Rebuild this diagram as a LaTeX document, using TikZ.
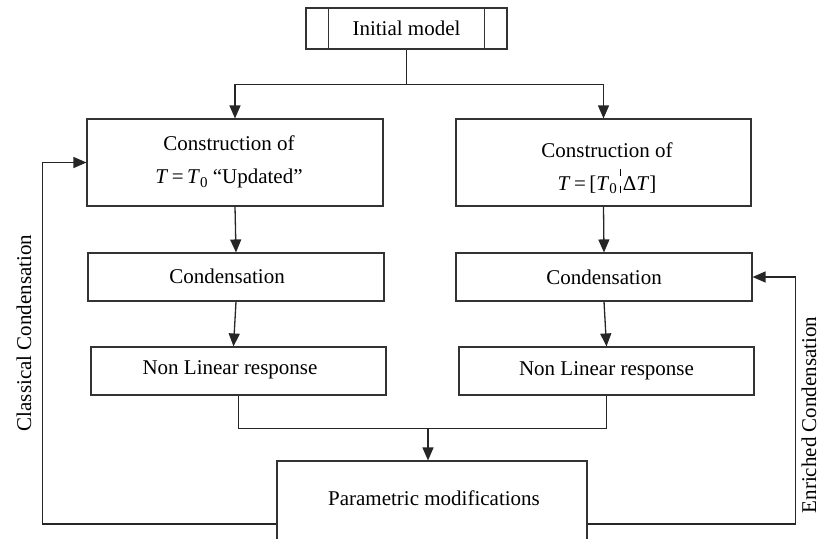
\documentclass[tikz,border=0pt]{standalone}
\usepackage{fontspec}
\setmainfont{Liberation Serif}
\usetikzlibrary{arrows.meta}
\tikzset{
  box/.style={draw=black!80, line width=1.1pt, rectangle, inner sep=0pt, align=center},
  conn/.style={draw=black!85, line width=1.3pt},
  arr/.style={conn, -{Triangle[length=13pt,width=11pt]}},
  lbl/.style={inner sep=0pt}
}
\newcommand{\dbar}{\makebox[6pt]{\rlap{\raisebox{-3pt}{\rule{0.7pt}{7.5pt}}}\rlap{\raisebox{14pt}{\rule{0.7pt}{7.5pt}}}}}
\begin{document}
\begin{tikzpicture}[x=1pt,y=-1pt]
\fontsize{21}{33}\selectfont
\useasboundingbox (0,0) rectangle (829,538);
\clip (0,0) rectangle (829,538);
% initial model
\node[box, minimum width=201pt, minimum height=41pt] (init) at (406.5,28.5) {Initial model};
\draw[box] ([xshift=23pt]init.north west) -- ([xshift=23pt]init.south west);
\draw[box] ([xshift=-23pt]init.north east) -- ([xshift=-23pt]init.south east);
% construction boxes
\node[box, minimum width=296pt, minimum height=87pt] (lc) at (235,162.5) {};
\node[lbl, align=center] (lct) at (229,162) {Construction of\\\textit{T}\,=\,\textit{T}\raisebox{-0.35ex}{\fontsize{15}{15}\selectfont 0}\ “Updated”};
\node[box, minimum width=295pt, minimum height=87pt] (rc) at (603.5,162.5) {};
\node[lbl, align=center] (rct) at (607,168) {Construction of\\\textit{T}\,=\,[\textit{T}\raisebox{-0.35ex}{\fontsize{15}{15}\selectfont 0}\dbar Δ\textit{T}]};
% condensation
\node[box, minimum width=296pt, minimum height=48pt] (lcd) at (236,277) {};
\node[lbl] (lcdt) at (227,276) {Condensation};
\node[box, minimum width=296pt, minimum height=48pt] (rcd) at (604,277) {Condensation};
% non linear response
\node[box, minimum width=295pt, minimum height=48pt] (lnl) at (238.5,371) {};
\node[lbl] (lnlt) at (230,370) {Non Linear response};
\node[box, minimum width=295pt, minimum height=48pt] (rnl) at (606.5,371) {Non Linear response};
% parametric
\node[box, minimum width=310pt, minimum height=100pt] (pm) at (432,511) {};
\node[lbl] (pmt) at (434,498) {Parametric modifications};
% connectors
\draw[arr] (init.south) -- ++(0,35) -| (lc.north);
\draw[arr] (init.south) -- ++(0,35) -| (rc.north);
\draw[arr] (lc.south) -- (lcd.north);
\draw[arr] (lcd.south) -- ([xshift=-5pt]lnl.north);
\draw[arr] (rc.south) -- (rcd.north);
\draw[arr] (rcd.south) -- (rnl.north);
\draw[conn] (lnl.south) -- ++(0,33) coordinate (jl) -| (rnl.south);
\coordinate (jm) at ([xshift=-4pt]pm.north |- jl);
\draw[arr] (jm) -- ([xshift=-4pt]pm.north);
% feedback loops
\draw[arr] ([yshift=-13pt]pm.west) -- ++(-234,0) |- (lc.west);
\draw[arr] ([yshift=-13pt]pm.east) -- ++(208,0) |- (rcd.east);
% side labels
\node[lbl, rotate=90] (cl) at (24,333) {Classical Condensation};
\node[lbl, rotate=90] (el) at (809,415) {Enriched Condensation};
\end{tikzpicture}
\end{document}
